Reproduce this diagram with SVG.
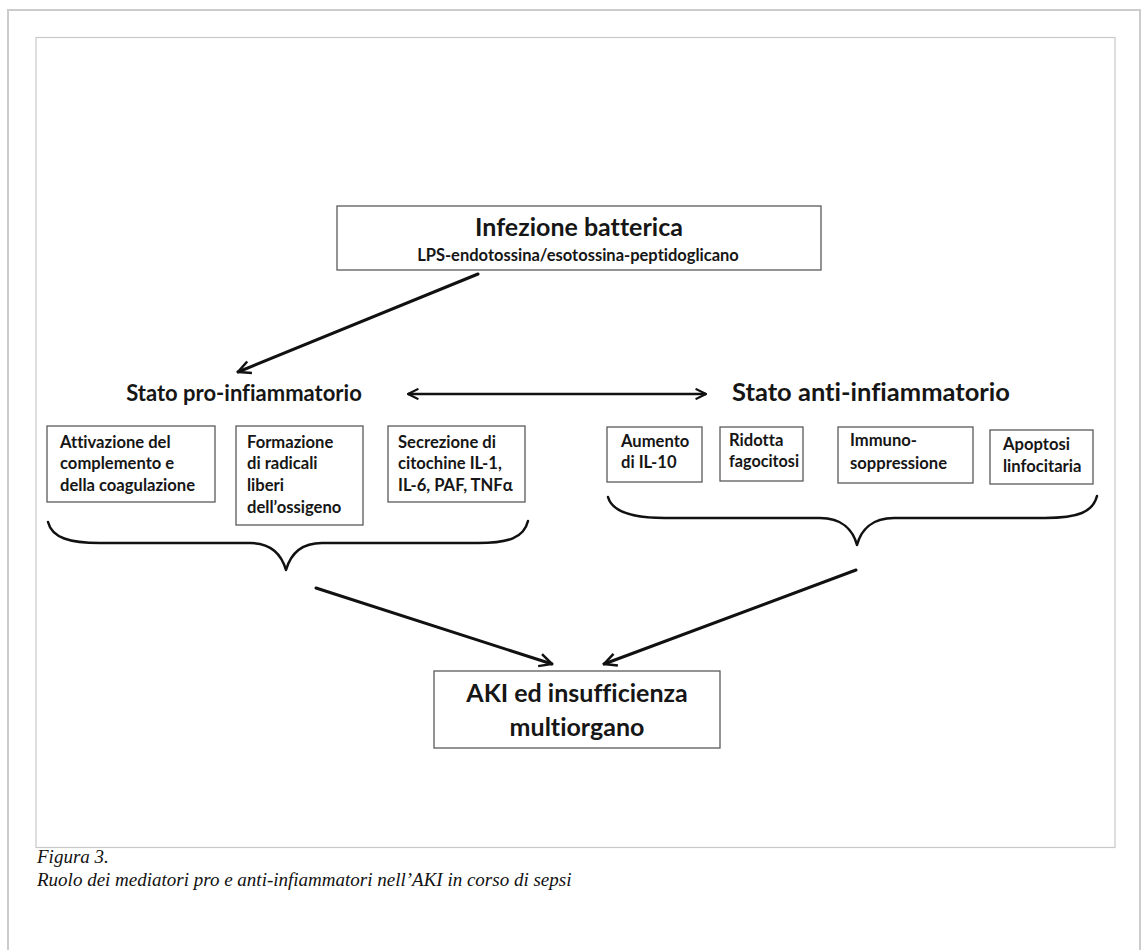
<svg xmlns="http://www.w3.org/2000/svg" width="1146" height="950" viewBox="0 0 1146 950">
<defs>
<style>
.frame{fill:none;stroke:#cccccc;stroke-width:2}
.inner{fill:none;stroke:#c8c8c8;stroke-width:1.2}
.box{fill:#ffffff;stroke:#5a5a5a;stroke-width:1.3}
.t{font-family:Lato,"Open Sans","Liberation Sans",sans-serif;font-weight:bold;fill:#161616;font-variant-ligatures:none;font-feature-settings:"liga" 0,"clig" 0,"dlig" 0}
.big{font-size:25px}
.mid{font-size:22px}
.mid2{font-size:25.5px}
.sm{font-size:16.6px}
.sub{font-size:16.5px}
.ak{font-size:25px}
.cap{font-family:"Liberation Serif","DejaVu Serif",serif;font-style:italic;font-size:19px;fill:#111}
.line{fill:none;stroke:#111;stroke-width:3;stroke-linecap:round}
.dline{fill:none;stroke:#111;stroke-width:2.5}
.brace{fill:none;stroke:#111;stroke-width:2.5;stroke-linecap:round;stroke-linejoin:round}
</style>
<marker id="ah" viewBox="0 0 12 12" refX="11" refY="6" markerWidth="5" markerHeight="5" orient="auto-start-reverse" markerUnits="strokeWidth">
<path d="M1,1 L11,6 L1,11" fill="none" stroke="#111" stroke-width="2" stroke-linejoin="miter"/>
</marker>
</defs>
<rect width="1146" height="950" fill="#ffffff"/>
<path class="frame" d="M8,952 L8,10 L1140,10 L1140,952"/>
<rect class="inner" x="36" y="37.5" width="1079" height="810"/>

<g id="node-infezione">
<rect class="box" x="337" y="206" width="484" height="64"/>
<text class="t big" x="579" y="236" text-anchor="middle">Infezione batterica</text>
<text class="t sub" x="578" y="261" text-anchor="middle">LPS-endotossina/esotossina-peptidoglicano</text>
</g>

<g id="node-pro">
<text class="t mid" x="244" y="401" text-anchor="middle">Stato pro-infiammatorio</text>
</g>
<g id="node-anti">
<text class="t mid2" x="871" y="401" text-anchor="middle">Stato anti-infiammatorio</text>
</g>

<g id="node-attivazione">
<rect class="box" x="47" y="426" width="168" height="76"/>
<text class="t sm" x="60" y="448">Attivazione del</text>
<text class="t sm" x="60" y="469">complemento e</text>
<text class="t sm" x="60" y="491">della coagulazione</text>
</g>
<g id="node-formazione">
<rect class="box" x="236" y="426" width="127" height="99"/>
<text class="t sm" x="247" y="448">Formazione</text>
<text class="t sm" x="247" y="469">di radicali</text>
<text class="t sm" x="247" y="491">liberi</text>
<text class="t sm" x="247" y="513">dell’ossigeno</text>
</g>
<g id="node-secrezione">
<rect class="box" x="388" y="426" width="137" height="76"/>
<text class="t sm" x="398" y="448">Secrezione di</text>
<text class="t sm" x="398" y="469">citochine IL-1,</text>
<text class="t sm" x="398" y="491">IL-6, PAF, TNFα</text>
</g>

<g id="node-aumento">
<rect class="box" x="607" y="427" width="95" height="55"/>
<text class="t sm" x="621" y="447">Aumento</text>
<text class="t sm" x="621" y="468">di IL-10</text>
</g>
<g id="node-ridotta">
<rect class="box" x="720" y="427" width="83" height="54"/>
<text class="t sm" x="729" y="446">Ridotta</text>
<text class="t sm" x="729" y="467" style="font-size:16.2px">fagocitosi</text>
</g>
<g id="node-immuno">
<rect class="box" x="838" y="427" width="135" height="56"/>
<text class="t sm" x="850" y="446">Immuno-</text>
<text class="t sm" x="850" y="469">soppressione</text>
</g>
<g id="node-apoptosi">
<rect class="box" x="990" y="430" width="103" height="54"/>
<text class="t sm" x="1003" y="450">Apoptosi</text>
<text class="t sm" x="1003" y="472">linfocitaria</text>
</g>

<g id="node-aki">
<rect class="box" x="434" y="671" width="286" height="77"/>
<text class="t ak" x="577" y="702" text-anchor="middle">AKI ed insufficienza</text>
<text class="t ak" x="577" y="736" text-anchor="middle">multiorgano</text>
</g>

<g id="connectors">
<line class="line" x1="478" y1="274" x2="238" y2="372" marker-end="url(#ah)"/>
<line class="dline" x1="408" y1="394" x2="706" y2="394" marker-start="url(#ah)" marker-end="url(#ah)"/>
<path class="brace" d="M48,522 C52,538 70,543 100,543 L250,543 C272,543 282,556 286,570 C290,556 300,543 322,543 L478,543 C508,543 524,538 528,521"/>
<path class="brace" d="M608,497 C612,512 632,518 665,518 L820,518 C842,518 853,530 857,545 C861,530 872,518 894,518 L1045,518 C1078,518 1093,512 1097,496"/>
<line class="line" x1="316" y1="588" x2="552" y2="664" marker-end="url(#ah)"/>
<line class="line" x1="856" y1="570" x2="604" y2="664" marker-end="url(#ah)"/>
</g>

<g id="caption">
<text class="cap" x="37" y="863">Figura 3.</text>
<text class="cap" x="37" y="886">Ruolo dei mediatori pro e anti-infiammatori nell’AKI in corso di sepsi</text>
</g>
</svg>
